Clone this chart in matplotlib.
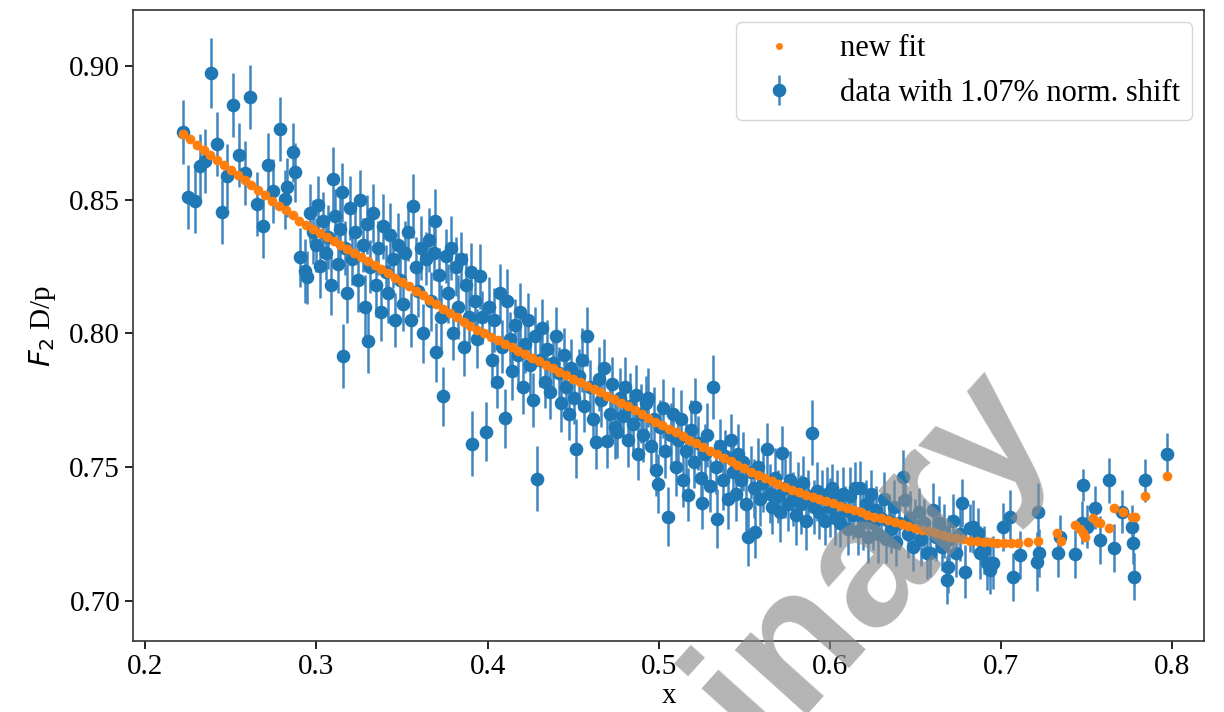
import matplotlib
matplotlib.use("Agg")
import matplotlib.pyplot as plt

data_x = [
    # low x, sparse
    0.2222, 0.2251, 0.2292, 0.2321, 0.2350, 0.2386, 0.2421, 0.2450, 0.2479, 0.2514, 0.2549,
    0.2584, 0.2614, 0.2655, 0.2690, 0.2719, 0.2748, 0.2789, 0.2818, 0.2830, 0.2865, 0.2877,
    # 0.29 - 0.40
    0.2906, 0.2935, 0.2947, 0.2960, 0.2980, 0.3000, 0.3010, 0.3023, 0.3040, 0.3055, 0.3070,
    0.3085, 0.3099, 0.3110, 0.3125, 0.3140, 0.3151, 0.3157, 0.3165, 0.3180, 0.3195, 0.3210,
    0.3225, 0.3240, 0.3255, 0.3270, 0.3285, 0.3297, 0.3303, 0.3315, 0.3330, 0.3345, 0.3360,
    0.3375, 0.3390, 0.3405, 0.3420, 0.3432, 0.3445, 0.3460, 0.3475, 0.3490, 0.3505, 0.3520,
    0.3535, 0.3550, 0.3566, 0.3580, 0.3595, 0.3610, 0.3625, 0.3640, 0.3655, 0.3670, 0.3685,
    0.3695, 0.3700, 0.3715, 0.3730, 0.3742, 0.3755, 0.3770, 0.3785, 0.3800, 0.3815, 0.3830,
    0.3845, 0.3860, 0.3875, 0.3890, 0.3905, 0.3911, 0.3925, 0.3940, 0.3958, 0.3970, 0.3993,
    # 0.40 - 0.49
    0.4010, 0.4025, 0.4040, 0.4055, 0.4070, 0.4085, 0.4104, 0.4116, 0.4130, 0.4145, 0.4160,
    0.4175, 0.4190, 0.4205, 0.4220, 0.4235, 0.4250, 0.4265, 0.4280, 0.4291, 0.4305, 0.4320,
    0.4335, 0.4350, 0.4365, 0.4380, 0.4402, 0.4415, 0.4430, 0.4445, 0.4460, 0.4475, 0.4490,
    0.4505, 0.4519, 0.4535, 0.4550, 0.4565, 0.4583, 0.4600, 0.4615, 0.4636, 0.4650, 0.4665,
    0.4680, 0.4700, 0.4715, 0.4730, 0.4745, 0.4759, 0.4775, 0.4790, 0.4805, 0.4820, 0.4835,
    0.4850, 0.4865, 0.4880, 0.4895, 0.4910,
    # 0.49 - 0.595
    0.4925, 0.4940, 0.4955, 0.4970, 0.4985, 0.4998, 0.5010, 0.5025, 0.5040, 0.5057, 0.5070,
    0.5085, 0.5100, 0.5115, 0.5130, 0.5145, 0.5160, 0.5174, 0.5190, 0.5205, 0.5214, 0.5230,
    0.5245, 0.5255, 0.5270, 0.5285, 0.5300, 0.5320, 0.5335, 0.5343, 0.5360, 0.5375, 0.5390,
    0.5405, 0.5420, 0.5435, 0.5450, 0.5465, 0.5480, 0.5495, 0.5510, 0.5524, 0.5540, 0.5555,
    0.5565, 0.5580, 0.5595, 0.5610, 0.5635, 0.5650, 0.5665, 0.5680, 0.5695, 0.5710, 0.5723,
    0.5740, 0.5755, 0.5770, 0.5785, 0.5800, 0.5815, 0.5830, 0.5845, 0.5860, 0.5875, 0.5898,
    0.5910, 0.5925, 0.5940,
    # 0.595 - 0.695
    0.5955, 0.5970, 0.5985, 0.6000, 0.6015, 0.6030, 0.6045, 0.6060, 0.6075, 0.6090, 0.6105,
    0.6120, 0.6135, 0.6150, 0.6165, 0.6179, 0.6195, 0.6210, 0.6225, 0.6240, 0.6255, 0.6270,
    0.6285, 0.6300, 0.6315, 0.6330, 0.6345, 0.6360, 0.6375, 0.6390, 0.6405, 0.6430, 0.6440,
    0.6455, 0.6470, 0.6485, 0.6500, 0.6520, 0.6535, 0.6550, 0.6570, 0.6588, 0.6605, 0.6620,
    0.6640, 0.6655, 0.6670, 0.6687, 0.6690, 0.6700, 0.6720, 0.6740, 0.6760, 0.6775, 0.6792,
    0.6822, 0.6840, 0.6868, 0.6880, 0.6900, 0.6920, 0.6939, 0.6956,
    # high x, sparse
    0.7015, 0.7056, 0.7073, 0.7114, 0.7213, 0.7219, 0.7225, 0.7336, 0.7348, 0.7435, 0.7476,
    0.7482, 0.7505, 0.7552, 0.7581, 0.7634, 0.7663, 0.7710, 0.7769, 0.7774, 0.7780, 0.7844,
    0.7973,
]

data_y = [
    0.8753, 0.8509, 0.8494, 0.8625, 0.8644, 0.8974, 0.8708, 0.8453, 0.8588, 0.8854, 0.8667,
    0.8600, 0.8884, 0.8483, 0.8401, 0.8629, 0.8532, 0.8764, 0.8502, 0.8547, 0.8678, 0.8603,
    0.8285, 0.8232, 0.8210, 0.8450, 0.8380, 0.8330, 0.8480, 0.8251, 0.8420, 0.8300, 0.8360,
    0.8180, 0.8577, 0.8440, 0.8260, 0.8390, 0.8528, 0.7914, 0.8320, 0.8150, 0.8470, 0.8280,
    0.8380, 0.8200, 0.8500, 0.8330, 0.8100, 0.8408, 0.7970, 0.8250, 0.8450, 0.8180, 0.8320,
    0.8080, 0.8400, 0.8230, 0.8150, 0.8367, 0.8280, 0.8050, 0.8330, 0.8200, 0.8110, 0.8300,
    0.8380, 0.8050, 0.8476, 0.8250, 0.8160, 0.8320, 0.8000, 0.8280, 0.8350, 0.8120, 0.8300,
    0.8420, 0.7929, 0.8220, 0.8060, 0.7764, 0.8290, 0.8150, 0.8320, 0.8000, 0.8250, 0.8100,
    0.8280, 0.7950, 0.8180, 0.8060, 0.8230, 0.7588, 0.8120, 0.7980, 0.8213, 0.8060, 0.7633,
    0.8100, 0.7900, 0.8050, 0.7820, 0.8150, 0.7950, 0.7682, 0.8120, 0.7980, 0.7860, 0.8030,
    0.7920, 0.8080, 0.7800, 0.7960, 0.8050, 0.7880, 0.7750, 0.7990, 0.7457, 0.7900, 0.8020,
    0.7820, 0.7940, 0.7780, 0.7890, 0.7989, 0.7850, 0.7740, 0.7920, 0.7800, 0.7700, 0.7870,
    0.7760, 0.7569, 0.7840, 0.7900, 0.7730, 0.7989, 0.7800, 0.7680, 0.7592, 0.7830, 0.7750,
    0.7870, 0.7596, 0.7700, 0.7810, 0.7650, 0.7633, 0.7760, 0.7690, 0.7800, 0.7600, 0.7730,
    0.7660, 0.7770, 0.7550, 0.7700, 0.7620,
    0.7740, 0.7760, 0.7580, 0.7680, 0.7490, 0.7438, 0.7650, 0.7720, 0.7560, 0.7315, 0.7620,
    0.7700, 0.7500, 0.7600, 0.7680, 0.7450, 0.7560, 0.7397, 0.7640, 0.7520, 0.7723, 0.7590,
    0.7460, 0.7367, 0.7550, 0.7620, 0.7430, 0.7798, 0.7500, 0.7307, 0.7580, 0.7450, 0.7540,
    0.7380, 0.7600, 0.7480, 0.7400, 0.7550, 0.7450, 0.7520, 0.7360, 0.7240, 0.7480, 0.7420,
    0.7258, 0.7500, 0.7380, 0.7440, 0.7566, 0.7400, 0.7350, 0.7460, 0.7390, 0.7330, 0.7554,
    0.7420, 0.7360, 0.7450, 0.7380, 0.7320, 0.7420, 0.7360, 0.7440, 0.7300, 0.7390, 0.7629,
    0.7350, 0.7410, 0.7330,
    0.7390, 0.7300, 0.7400, 0.7350, 0.7420, 0.7310, 0.7380, 0.7290, 0.7400, 0.7340, 0.7270,
    0.7390, 0.7320, 0.7420, 0.7260, 0.7423, 0.7300, 0.7360, 0.7240, 0.7400, 0.7290, 0.7340,
    0.7250, 0.7310, 0.7380, 0.7230, 0.7300, 0.7270, 0.7350, 0.7220, 0.7290, 0.7464, 0.7378,
    0.7250, 0.7310, 0.7200, 0.7280, 0.7330, 0.7230, 0.7290, 0.7180, 0.7180, 0.7341, 0.7240,
    0.7290, 0.7200, 0.7260, 0.7079, 0.7127, 0.7230, 0.7300, 0.7180, 0.7250, 0.7367, 0.7109,
    0.7273, 0.7277, 0.7255, 0.7180, 0.7190, 0.7140, 0.7116, 0.7142,
    0.7277, 0.7315, 0.7090, 0.7172, 0.7146, 0.7330, 0.7180, 0.7180, 0.7240, 0.7176, 0.7292,
    0.7434, 0.7277, 0.7348, 0.7228, 0.7450, 0.7198, 0.7333, 0.7277, 0.7217, 0.7090, 0.7450,
    0.7547,
]

data_err = [
    0.012, 0.012, 0.012, 0.012, 0.012, 0.013, 0.012, 0.012, 0.012, 0.012, 0.012,
    0.012, 0.012, 0.012, 0.012, 0.012, 0.012, 0.012, 0.011, 0.011, 0.011, 0.011,
    0.011, 0.012, 0.010, 0.011, 0.012, 0.010, 0.011, 0.012, 0.011, 0.010, 0.012,
    0.011, 0.012, 0.010, 0.011, 0.012, 0.011, 0.012, 0.010, 0.011, 0.012, 0.010,
    0.011, 0.012, 0.011, 0.010, 0.012, 0.011, 0.012, 0.010, 0.011, 0.012, 0.010,
    0.011, 0.012, 0.010, 0.011, 0.012, 0.011, 0.010, 0.012, 0.011, 0.010, 0.012,
    0.011, 0.010, 0.012, 0.011, 0.010, 0.012, 0.011, 0.010, 0.012, 0.011, 0.010,
    0.012, 0.011, 0.010, 0.012, 0.011, 0.010, 0.011, 0.012, 0.010, 0.011, 0.012,
    0.010, 0.011, 0.012, 0.010, 0.011, 0.012, 0.010, 0.011, 0.012, 0.010, 0.011,
    0.011, 0.010, 0.012, 0.010, 0.011, 0.010, 0.011, 0.012, 0.010, 0.011, 0.010,
    0.012, 0.011, 0.010, 0.011, 0.010, 0.012, 0.010, 0.011, 0.012, 0.010, 0.011,
    0.010, 0.011, 0.010, 0.012, 0.011, 0.010, 0.011, 0.010, 0.012, 0.010, 0.011,
    0.010, 0.011, 0.010, 0.012, 0.010, 0.011, 0.010, 0.011, 0.010, 0.012, 0.010,
    0.011, 0.010, 0.011, 0.010, 0.012, 0.010, 0.011, 0.010, 0.011, 0.010, 0.012,
    0.010, 0.011, 0.010, 0.011, 0.010,
    0.010, 0.011, 0.010, 0.012, 0.010, 0.011, 0.010, 0.011, 0.010, 0.011, 0.012,
    0.010, 0.011, 0.010, 0.011, 0.010, 0.012, 0.010, 0.011, 0.010, 0.011, 0.010,
    0.011, 0.010, 0.011, 0.012, 0.010, 0.012, 0.010, 0.011, 0.010, 0.011, 0.010,
    0.011, 0.010, 0.011, 0.010, 0.011, 0.010, 0.011, 0.010, 0.011, 0.010, 0.011,
    0.010, 0.011, 0.010, 0.011, 0.010, 0.011, 0.010, 0.011, 0.010, 0.011, 0.010,
    0.011, 0.010, 0.011, 0.010, 0.011, 0.010, 0.011, 0.010, 0.011, 0.010, 0.012,
    0.010, 0.011, 0.010,
    0.010, 0.009, 0.010, 0.011, 0.009, 0.010, 0.011, 0.009, 0.010, 0.009, 0.010,
    0.011, 0.009, 0.010, 0.009, 0.010, 0.011, 0.009, 0.010, 0.009, 0.010, 0.009,
    0.011, 0.009, 0.010, 0.009, 0.010, 0.009, 0.010, 0.009, 0.010, 0.010, 0.010,
    0.009, 0.010, 0.009, 0.010, 0.009, 0.010, 0.009, 0.010, 0.009, 0.010, 0.009,
    0.010, 0.009, 0.010, 0.009, 0.010, 0.009, 0.010, 0.009, 0.010, 0.009, 0.010,
    0.009, 0.010, 0.009, 0.010, 0.009, 0.010, 0.009, 0.010,
    0.009, 0.010, 0.009, 0.009, 0.011, 0.011, 0.009, 0.009, 0.008, 0.009, 0.008,
    0.006, 0.008, 0.008, 0.009, 0.0085, 0.009, 0.008, 0.008, 0.008, 0.0087, 0.008,
    0.008,
]

# fitted curve, evaluated at the plotted points
fit_x = [
    0.222, 0.226, 0.230, 0.234, 0.238, 0.242, 0.246, 0.250, 0.254, 0.258, 0.262, 0.266,
    0.270, 0.274, 0.278, 0.282, 0.286, 0.290, 0.294, 0.298, 0.302, 0.306, 0.310, 0.314,
    0.318, 0.322, 0.326, 0.330, 0.334, 0.338, 0.342, 0.346, 0.350, 0.354, 0.358, 0.362,
    0.366, 0.370, 0.374, 0.378, 0.382, 0.386, 0.390, 0.394, 0.398, 0.402, 0.406, 0.410,
    0.414, 0.418, 0.422, 0.426, 0.430, 0.434, 0.438, 0.442, 0.446, 0.450, 0.454, 0.458,
    0.462, 0.466, 0.470, 0.474, 0.478, 0.482, 0.486, 0.490, 0.494, 0.498, 0.502, 0.506,
    0.510, 0.514, 0.518, 0.522, 0.526, 0.530, 0.534, 0.538, 0.542, 0.546, 0.550, 0.554,
    0.558, 0.562, 0.566, 0.570, 0.574, 0.578, 0.582, 0.586, 0.590, 0.594, 0.598, 0.602,
    0.606, 0.610, 0.614, 0.618, 0.622, 0.626, 0.630, 0.634, 0.638, 0.642, 0.646, 0.650,
    0.654, 0.658, 0.662, 0.666, 0.670, 0.674, 0.678, 0.682, 0.686, 0.690, 0.694, 0.698,
    0.702, 0.706, 0.710, 0.716, 0.722,
    0.7330, 0.7350, 0.7435, 0.7460, 0.7480, 0.7494, 0.7540, 0.7560, 0.7580, 0.7634,
    0.7663, 0.7716, 0.7769, 0.7786, 0.7844, 0.7973,
]

fit_y = [
    0.8745, 0.8726, 0.8706, 0.8687, 0.8668, 0.8649, 0.8630, 0.8611, 0.8592, 0.8573, 0.8554, 0.8535,
    0.8516, 0.8497, 0.8478, 0.8460, 0.8442, 0.8420, 0.8405, 0.8390, 0.8374, 0.8359, 0.8344, 0.8329,
    0.8314, 0.8299, 0.8284, 0.8270, 0.8255, 0.8240, 0.8225, 0.8209, 0.8192, 0.8176, 0.8159, 0.8143,
    0.8126, 0.8110, 0.8093, 0.8077, 0.8060, 0.8044, 0.8027, 0.8014, 0.8001, 0.7988, 0.7975, 0.7962,
    0.7948, 0.7935, 0.7922, 0.7909, 0.7896, 0.7883, 0.7870, 0.7857, 0.7844, 0.7831, 0.7818, 0.7805,
    0.7792, 0.7779, 0.7766, 0.7753, 0.7740, 0.7727, 0.7714, 0.7697, 0.7684, 0.7670, 0.7657, 0.7643,
    0.7630, 0.7616, 0.7602, 0.7589, 0.7575, 0.7561, 0.7548, 0.7535, 0.7522, 0.7509, 0.7496, 0.7483,
    0.7470, 0.7458, 0.7446, 0.7435, 0.7425, 0.7415, 0.7406, 0.7397, 0.7389, 0.7381, 0.7372, 0.7364,
    0.7355, 0.7347, 0.7339, 0.7330, 0.7322, 0.7315, 0.7308, 0.7301, 0.7294, 0.7287, 0.7280, 0.7273,
    0.7266, 0.7259, 0.7252, 0.7245, 0.7238, 0.7233, 0.7229, 0.7225, 0.7222, 0.7220, 0.7218, 0.7217,
    0.7216, 0.7216, 0.7217, 0.7218, 0.7222,
    0.7255, 0.7222, 0.7285, 0.7270, 0.7252, 0.7240, 0.7310, 0.7296, 0.7292, 0.7273,
    0.7345, 0.7333, 0.7315, 0.7315, 0.7390, 0.7465,
]

plt.rcParams["font.family"] = ["Liberation Serif", "DejaVu Serif"]
plt.rcParams["mathtext.fontset"] = "dejavusans"

fig = plt.figure(figsize=(12.24, 7.12), dpi=100)
ax = fig.add_axes([0.109, 0.100, 0.875, 0.886])

ax.errorbar(data_x, data_y, yerr=data_err, fmt="o", color="#1f77b4", ms=8.8,
            ecolor="#3f86c0", elinewidth=1.8, label="data with 1.07% norm. shift", zorder=2)
ax.plot(fit_x, fit_y, "o", color="#ff7f0e", ms=7, mew=0, label="new fit", zorder=3)

ax.set_xlim(0.193, 0.819)
ax.set_ylim(0.685, 0.921)
ax.set_xticks([0.2, 0.3, 0.4, 0.5, 0.6, 0.7, 0.8])
ax.set_yticks([0.70, 0.75, 0.80, 0.85, 0.90])
ax.set_yticklabels(["0.70", "0.75", "0.80", "0.85", "0.90"])
ax.tick_params(labelsize=21, length=6, width=1.2)
for s in ax.spines.values():
    s.set_linewidth(1.2)
    s.set_color("#333333")

ax.set_xlabel("x", fontsize=21, labelpad=2)
ax.set_ylabel(r"$F_2$ D/p", fontsize=21, labelpad=8)

leg = ax.legend(loc="upper right", fontsize=22, borderaxespad=0.4, handletextpad=1.0)
leg.legend_handles[0].set_markersize(5)

# "Preliminary" stamp across the lower right
fig.text(0.560, -0.075, "Preliminary", fontsize=132, fontweight="bold",
         family="Liberation Sans", color="#8c8c8c", alpha=0.65,
         rotation=48, rotation_mode="anchor", ha="center", va="center", zorder=10)

fig.savefig("out.png", dpi=100)
